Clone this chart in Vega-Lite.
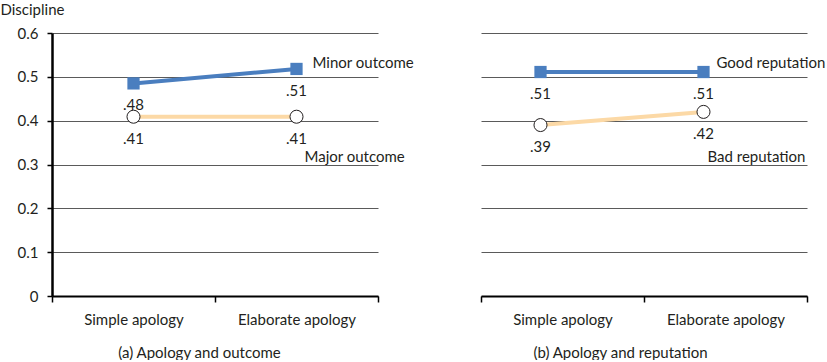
{
  "$schema": "https://vega.github.io/schema/vega-lite/v6.json",
  "padding": {"left": 0, "top": 2, "right": 0, "bottom": 0},
  "spacing": 103,
  "bounds": "flush",
  "config": {
    "font": "Lato",
    "view": {"stroke": null},
    "axis": {"labelColor": "#231f20", "titleColor": "#231f20", "labelFontSize": 15, "titleFontSize": 15, "titleFontWeight": "normal"},
    "text": {"color": "#231f20", "fontSize": 15}
  },
  "datasets": {
    "outcome": [
      {"series": "Minor outcome", "apology": "Simple apology", "value": 0.485, "label": ".48"},
      {"series": "Minor outcome", "apology": "Elaborate apology", "value": 0.518, "label": ".51"},
      {"series": "Major outcome", "apology": "Simple apology", "value": 0.409, "label": ".41"},
      {"series": "Major outcome", "apology": "Elaborate apology", "value": 0.409, "label": ".41"}
    ],
    "reputation": [
      {"series": "Good reputation", "apology": "Simple apology", "value": 0.511, "label": ".51"},
      {"series": "Good reputation", "apology": "Elaborate apology", "value": 0.511, "label": ".51"},
      {"series": "Bad reputation", "apology": "Simple apology", "value": 0.39, "label": ".39"},
      {"series": "Bad reputation", "apology": "Elaborate apology", "value": 0.42, "label": ".42"}
    ]
  },
  "hconcat": [
    {
      "width": 326,
      "height": 263,
      "data": {"name": "outcome"},
      "encoding": {
        "x": {
          "field": "apology", "type": "nominal",
          "sort": ["Simple apology", "Elaborate apology"],
          "scale": {"type": "band", "paddingInner": 0, "paddingOuter": 0},
          "axis": {
            "title": "(a) Apology and outcome", "titleX": 147, "titleAlign": "center", "titlePadding": 18,
            "labelAngle": 0, "labelPadding": 10, "tickBand": "extent",
            "domainColor": "#000", "domainWidth": 2, "tickColor": "#000", "tickWidth": 1.5, "tickSize": 6, "grid": false
          }
        },
        "y": {
          "field": "value", "type": "quantitative",
          "scale": {"domain": [0, 0.6]},
          "axis": {
            "values": [0, 0.1, 0.2, 0.3, 0.4, 0.5, 0.6],
            "labelExpr": "datum.value == 0 ? '0' : format(datum.value, '.1f')",
            "title": "Discipline", "titleAngle": 0, "titleX": -52, "titleY": -31, "titleAlign": "left", "titleBaseline": "top",
            "domainColor": "#000", "domainWidth": 2.5, "tickColor": "#000", "tickWidth": 1.5, "tickSize": 5, "labelPadding": 9,
            "grid": true, "gridColor": "#5a5a5a", "gridWidth": 1
          }
        }
      },
      "layer": [
        {
          "mark": {"type": "line", "strokeWidth": 4},
          "encoding": {
            "color": {"field": "series", "type": "nominal", "scale": {"domain": ["Minor outcome", "Major outcome"], "range": ["#4a7ebf", "#fcd9a6"]}, "legend": null}
          }
        },
        {
          "transform": [{"filter": "datum.series == 'Minor outcome'"}],
          "mark": {"type": "point", "shape": "square", "filled": true, "size": 150, "color": "#4a7ebf", "opacity": 1}
        },
        {
          "transform": [{"filter": "datum.series == 'Major outcome'"}],
          "mark": {"type": "point", "shape": "circle", "filled": true, "size": 170, "fill": "#fff", "stroke": "#231f20", "strokeWidth": 1, "opacity": 1}
        },
        {
          "mark": {"type": "text", "dy": 22, "baseline": "middle"},
          "encoding": {"text": {"field": "label"}}
        },
        {
          "data": {"values": [{"series": "Minor outcome", "apology": "Elaborate apology", "value": 0.532}]},
          "mark": {"type": "text", "align": "left", "baseline": "middle", "dx": 16},
          "encoding": {"text": {"field": "series"}}
        },
        {
          "data": {"values": [{"series": "Major outcome", "apology": "Elaborate apology", "value": 0.317}]},
          "mark": {"type": "text", "align": "left", "baseline": "middle", "dx": 8},
          "encoding": {"text": {"field": "series"}}
        }
      ]
    },
    {
      "width": 326,
      "height": 263,
      "data": {"name": "reputation"},
      "encoding": {
        "x": {
          "field": "apology", "type": "nominal",
          "sort": ["Simple apology", "Elaborate apology"],
          "scale": {"type": "band", "paddingInner": 0, "paddingOuter": 0},
          "axis": {
            "title": "(b) Apology and reputation", "titleX": 139, "titleAlign": "center", "titlePadding": 18,
            "labelAngle": 0, "labelPadding": 10, "tickBand": "extent",
            "domainColor": "#000", "domainWidth": 2, "tickColor": "#000", "tickWidth": 1.5, "tickSize": 6, "grid": false
          }
        },
        "y": {
          "field": "value", "type": "quantitative",
          "scale": {"domain": [0, 0.6]},
          "axis": {
            "values": [0, 0.1, 0.2, 0.3, 0.4, 0.5, 0.6],
            "title": null, "labels": false, "ticks": false, "domain": false,
            "grid": true, "gridColor": "#5a5a5a", "gridWidth": 1
          }
        }
      },
      "layer": [
        {
          "mark": {"type": "line", "strokeWidth": 4, "xOffset": -22},
          "encoding": {
            "color": {"field": "series", "type": "nominal", "scale": {"domain": ["Good reputation", "Bad reputation"], "range": ["#4a7ebf", "#fcd9a6"]}, "legend": null}
          }
        },
        {
          "transform": [{"filter": "datum.series == 'Good reputation'"}],
          "mark": {"type": "point", "shape": "square", "filled": true, "size": 150, "color": "#4a7ebf", "opacity": 1, "xOffset": -22}
        },
        {
          "transform": [{"filter": "datum.series == 'Bad reputation'"}],
          "mark": {"type": "point", "shape": "circle", "filled": true, "size": 170, "fill": "#fff", "stroke": "#231f20", "strokeWidth": 1, "opacity": 1, "xOffset": -22}
        },
        {
          "mark": {"type": "text", "dy": 22, "baseline": "middle", "xOffset": -22},
          "encoding": {"text": {"field": "label"}}
        },
        {
          "data": {"values": [{"series": "Good reputation", "apology": "Elaborate apology", "value": 0.532}]},
          "mark": {"type": "text", "align": "left", "baseline": "middle", "dx": -9},
          "encoding": {"text": {"field": "series"}}
        },
        {
          "data": {"values": [{"series": "Bad reputation", "apology": "Elaborate apology", "value": 0.317}]},
          "mark": {"type": "text", "align": "left", "baseline": "middle", "dx": -18},
          "encoding": {"text": {"field": "series"}}
        }
      ]
    }
  ]
}
